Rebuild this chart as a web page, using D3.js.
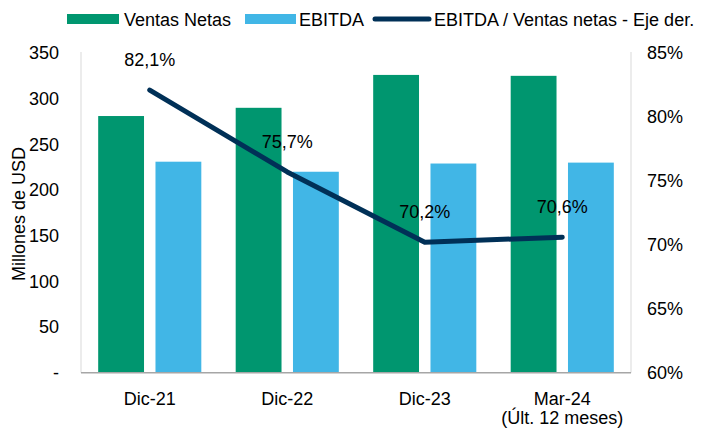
<!DOCTYPE html>
<html>
<head>
<meta charset="utf-8">
<script src="https://cdn.jsdelivr.net/npm/d3@7"></script>
<style>
  html, body { margin: 0; padding: 0; background: #fff; }
  text { font-family: "Liberation Sans", Arial, sans-serif; fill: #000; }
</style>
</head>
<body>
<svg id="chart" width="709" height="428"></svg>
<script>
const categories = ["Dic-21", "Dic-22", "Dic-23", "Mar-24"];
const categorySub = ["", "", "", "(Últ. 12 meses)"];
const ventasNetas = [281, 290, 326, 325];
const ebitda = [231, 220, 229, 230];
const margen = [82.1, 75.7, 70.2, 70.6];
const margenLabels = ["82,1%", "75,7%", "70,2%", "70,6%"];
const leftTicks = [0, 50, 100, 150, 200, 250, 300, 350];
const rightTicks = [60, 65, 70, 75, 80, 85];

const colors = { ventas: "#00966F", ebitda: "#41B6E6", line: "#003057" };

const svg = d3.select("#chart");
const L = 81, R = 631, T = 53, B = 372.7;

const x0 = d3.scaleBand().domain(categories).range([L, R]).paddingInner(0).paddingOuter(0);
const x1 = d3.scaleBand().domain(["v", "e"]).range([0, x0.bandwidth()]).paddingInner(0.2).paddingOuter(0.3);
const yL = d3.scaleLinear().domain([0, 350]).range([B, T]);
const yR = d3.scaleLinear().domain([60, 85]).range([B, T]);

// bars
const g = svg.append("g");
categories.forEach((c, i) => {
  g.append("rect").attr("x", x0(c) + x1("v")).attr("width", x1.bandwidth())
    .attr("y", yL(ventasNetas[i])).attr("height", yL(0) - yL(ventasNetas[i])).attr("fill", colors.ventas);
  g.append("rect").attr("x", x0(c) + x1("e")).attr("width", x1.bandwidth())
    .attr("y", yL(ebitda[i])).attr("height", yL(0) - yL(ebitda[i])).attr("fill", colors.ebitda);
});

// axis lines
svg.append("line").attr("x1", L).attr("x2", L).attr("y1", T - 1).attr("y2", B).attr("stroke", "#d9d9d9").attr("stroke-width", 1);
svg.append("line").attr("x1", R).attr("x2", R).attr("y1", T - 1).attr("y2", B).attr("stroke", "#d9d9d9").attr("stroke-width", 1);
svg.append("line").attr("x1", L).attr("x2", R).attr("y1", B).attr("y2", B).attr("stroke", "#a6a6a6").attr("stroke-width", 1.5);

// left axis
const axL = d3.axisLeft(yL).tickValues(leftTicks).tickSize(0).tickPadding(22)
  .tickFormat(d => d === 0 ? "-" : d3.format("d")(d));
const gL = svg.append("g").attr("transform", `translate(${L},0)`).call(axL);
gL.select(".domain").remove();
gL.selectAll("text").style("font-size", "18px").style("font-family", "Liberation Sans, Arial, sans-serif").attr("fill", "#000");

// right axis
const axR = d3.axisRight(yR).tickValues(rightTicks).tickSize(0).tickPadding(16).tickFormat(d => d + "%");
const gR = svg.append("g").attr("transform", `translate(${R},0)`).call(axR);
gR.select(".domain").remove();
gR.selectAll("text").style("font-size", "18px").style("font-family", "Liberation Sans, Arial, sans-serif").attr("fill", "#000");

// x labels
categories.forEach((c, i) => {
  const cx = x0(c) + x0.bandwidth() / 2;
  svg.append("text").attr("x", cx).attr("y", 405).attr("text-anchor", "middle").style("font-size", "18px").text(c);
  if (categorySub[i]) {
    svg.append("text").attr("x", cx).attr("y", 424).attr("text-anchor", "middle").style("font-size", "18px").text(categorySub[i]);
  }
});

// y title
svg.append("text").attr("transform", "translate(25,214) rotate(-90)").attr("text-anchor", "middle")
  .style("font-size", "18px").text("Millones de USD");

// line
const line = d3.line().x((d, i) => x0(categories[i]) + x0.bandwidth() / 2).y(d => yR(d));
svg.append("path").datum(margen).attr("d", line).attr("fill", "none")
  .attr("stroke", colors.line).attr("stroke-width", 5).attr("stroke-linecap", "round").attr("stroke-linejoin", "round");

// line labels
margen.forEach((m, i) => {
  svg.append("text").attr("x", x0(categories[i]) + x0.bandwidth() / 2).attr("y", yR(m) - 24)
    .attr("text-anchor", "middle").style("font-size", "18px").text(margenLabels[i]);
});

// legend
const lg = svg.append("g");
lg.append("rect").attr("x", 67).attr("y", 14).attr("width", 52).attr("height", 10).attr("fill", colors.ventas);
lg.append("text").attr("x", 124).attr("y", 25.5).style("font-size", "18px").text("Ventas Netas");
lg.append("rect").attr("x", 245).attr("y", 14).attr("width", 51).attr("height", 10).attr("fill", colors.ebitda);
lg.append("text").attr("x", 299).attr("y", 25.5).style("font-size", "18px").text("EBITDA");
lg.append("line").attr("x1", 375).attr("x2", 429).attr("y1", 19).attr("y2", 19)
  .attr("stroke", colors.line).attr("stroke-width", 5).attr("stroke-linecap", "round");
lg.append("text").attr("x", 434).attr("y", 25.5).style("font-size", "18px").text("EBITDA / Ventas netas - Eje der.");
</script>
</body>
</html>
